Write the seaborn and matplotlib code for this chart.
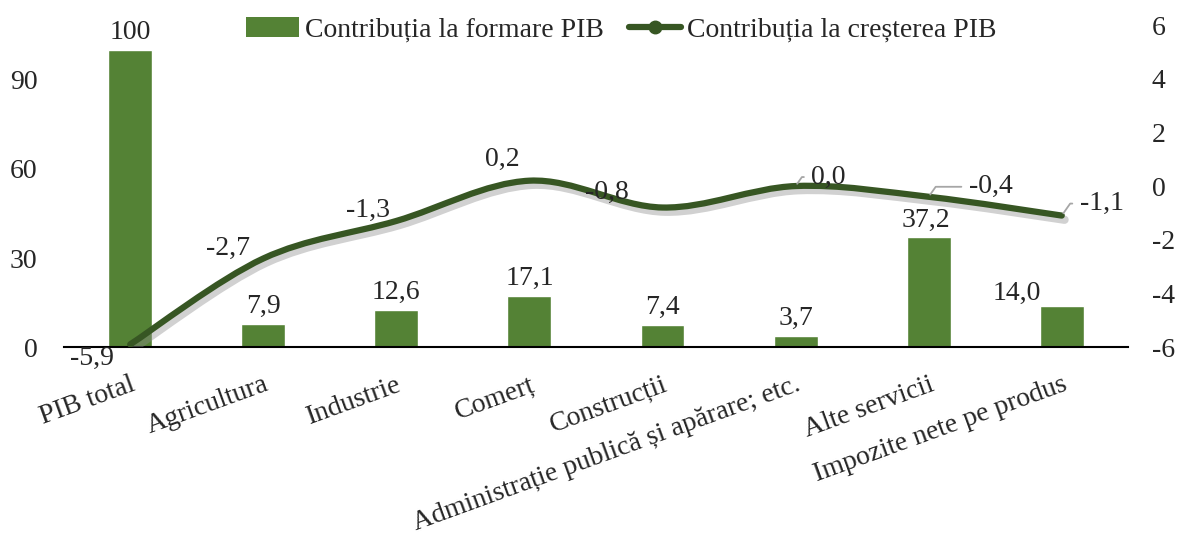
import numpy as np
import pandas as pd
import seaborn as sns
import matplotlib
matplotlib.use('Agg')
import matplotlib.pyplot as plt
from matplotlib.path import Path
from matplotlib.patches import PathPatch, Patch
from matplotlib.lines import Line2D
import matplotlib.patheffects as pe

# date
categorii = ['PIB total', 'Agricultura', 'Industrie', 'Comerț', 'Construcții',
             'Administrație publică și apărare; etc.', 'Alte servicii',
             'Impozite nete pe produs']
formare_pib = [100, 7.9, 12.6, 17.1, 7.4, 3.7, 37.2, 14.0]
crestere_pib = [-5.9, -2.7, -1.3, 0.2, -0.8, 0.0, -0.4, -1.1]
ticks_stanga = [0, 30, 60, 90]
ticks_dreapta = [-6, -4, -2, 0, 2, 4, 6]

bar_color = '#548235'
line_color = '#375623'
fs = 20


def fmt(v):
    if v == 100:
        return '100'
    return f'{v:.1f}'.replace('.', ',')


def smooth_path(xs, ys):
    # curba netezita tip Excel (bezier prin punctele seriei)
    pts = np.column_stack([xs, ys]).astype(float)
    n = len(pts)
    verts = [pts[0]]
    codes = [Path.MOVETO]
    for i in range(n - 1):
        p0 = pts[max(i - 1, 0)]
        p1 = pts[i]
        p2 = pts[i + 1]
        p3 = pts[min(i + 2, n - 1)]
        verts += [p1 + (p2 - p0) / 6, p2 - (p3 - p1) / 6, p2]
        codes += [Path.CURVE4] * 3
    return Path(verts, codes)


sns.set_theme(style='white')
plt.rcParams['font.family'] = ['Liberation Serif', 'DejaVu Serif']

fig = plt.figure(figsize=(11.79, 5.44), dpi=100)
ax = fig.add_axes([0.054, 0.362, 0.903, 0.592])

df = pd.DataFrame({'categorie': categorii, 'formare': formare_pib})
sns.barplot(data=df, x='categorie', y='formare', color=bar_color,
            width=0.33, saturation=1, ax=ax)
ax.set_xlim(-0.5, len(categorii) - 0.5)
ax.set_ylim(0, 108.5)
ax.set_yticks(ticks_stanga)
ax.set_xlabel('')
ax.set_ylabel('')
for s in ['top', 'left', 'right']:
    ax.spines[s].set_visible(False)
ax.spines['bottom'].set_color('black')
ax.spines['bottom'].set_linewidth(1.5)
ax.tick_params(axis='y', length=0, labelsize=fs, pad=19)
ax.tick_params(axis='x', length=0, labelsize=fs, pad=18)
plt.setp(ax.get_xticklabels(), rotation=20, ha='right', va='top',
         rotation_mode='anchor')

# etichete bare
bar_off = {6: (-3, 4), 7: (-45, 0)}
for i, v in enumerate(formare_pib):
    dx, dy = bar_off.get(i, (0, 5))
    ax.annotate(fmt(v), xy=(i, v), xytext=(dx, dy), textcoords='offset pixels',
                ha='center', va='bottom', fontsize=fs)

# linia pe axa secundara
ax2 = ax.twinx()
ax2.set_ylim(-6, 6)
ax2.set_yticks(ticks_dreapta)
ax2.set_yticklabels([str(t) for t in ticks_dreapta], ha='left')
for s in ax2.spines.values():
    s.set_visible(False)
ax2.tick_params(axis='y', length=0, labelsize=fs, pad=17)

patch = PathPatch(smooth_path(range(len(crestere_pib)), crestere_pib),
                  fill=False, edgecolor=line_color, linewidth=4.5,
                  capstyle='round', joinstyle='round',
                  path_effects=[pe.SimpleLineShadow(offset=(2, -3),
                                                    shadow_color='#8c8c8c',
                                                    alpha=0.4, linewidth=6),
                                pe.Normal()])
ax2.add_patch(patch)

# etichete linie (offset in pixeli)
line_off = [(-38, -14), (-35, 10), (-28, 11), (-27, 21), (-56, 15),
            (33, 9), (62, 10), (40, 12)]
leader = {5, 6, 7}
for i, v in enumerate(crestere_pib):
    dx, dy = line_off[i]
    if i in leader:
        ax2.annotate(fmt(v), xy=(i, v), xytext=(dx, dy),
                     textcoords='offset pixels', ha='center', va='center',
                     fontsize=fs,
                     arrowprops=dict(arrowstyle='-', color='#a6a6a6', lw=1.3,
                                     relpos=(0, 0.5), shrinkA=3, shrinkB=2,
                                     connectionstyle='angle,angleA=0,angleB=55,rad=0'))
    else:
        ax2.annotate(fmt(v), xy=(i, v), xytext=(dx, dy),
                     textcoords='offset pixels', ha='center', va='center',
                     fontsize=fs)

handles = [Patch(facecolor=bar_color, edgecolor='none',
                 label='Contribuția la formare PIB'),
           Line2D([0], [0], color=line_color, lw=4.5, marker='o',
                  markersize=9, label='Contribuția la creșterea PIB')]
fig.legend(handles=handles, loc='center', bbox_to_anchor=(0.527, 0.945),
           ncol=2, frameon=False, fontsize=fs, handlelength=1.9,
           handletextpad=0.2, columnspacing=0.9, borderpad=0)

fig.savefig('out.png', dpi=100)
